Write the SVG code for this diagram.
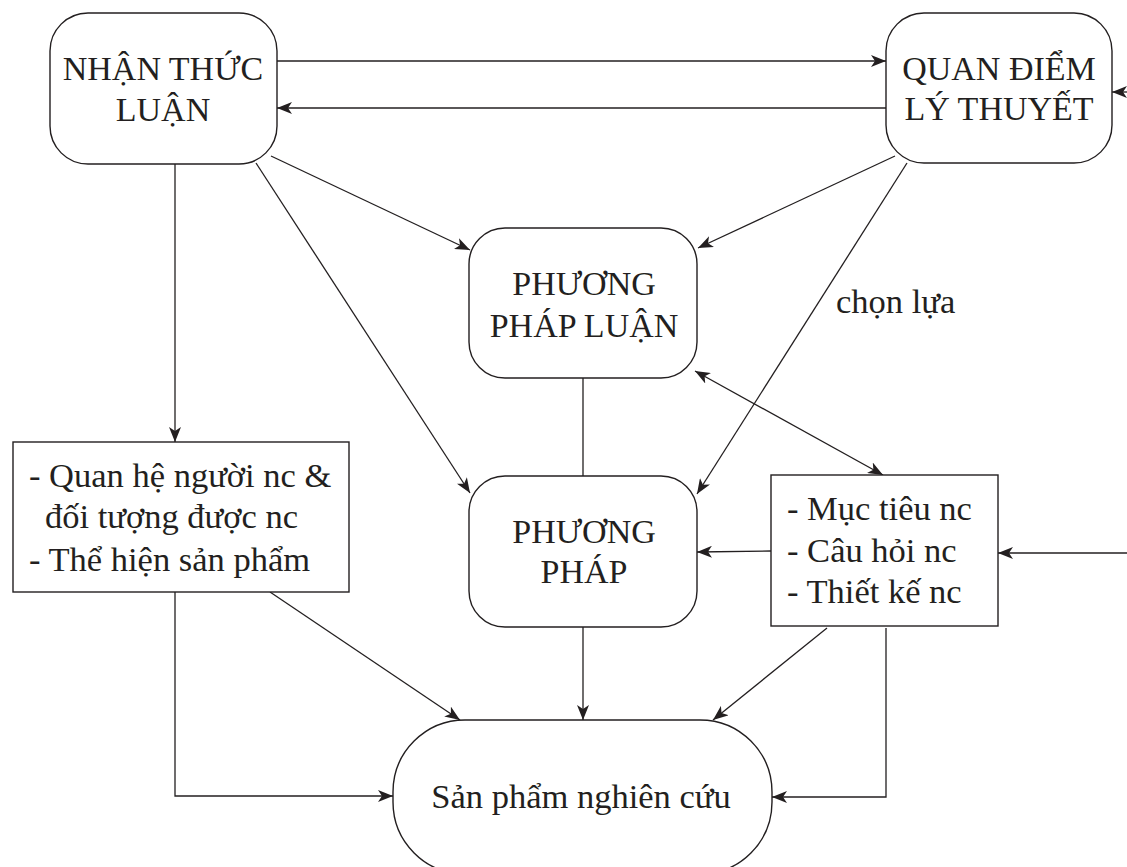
<svg xmlns="http://www.w3.org/2000/svg" width="1127" height="867" viewBox="0 0 1127 867">
<defs>
<marker id="ah" markerUnits="userSpaceOnUse" markerWidth="16" markerHeight="12" refX="15" refY="6" orient="auto-start-reverse">
<path d="M0,0 L15,6 L0,12 L4,6 Z" fill="#231f20"/>
</marker>
<style>
.box{fill:#fff;stroke:#231f20;stroke-width:1.4}
.c{fill:none;stroke:#231f20;stroke-width:1.3}
.a{marker-end:url(#ah)}
text{font-family:"Liberation Serif","Times New Roman",serif;font-size:34px;fill:#231f20}
.t{font-size:34.5px}
.m{text-anchor:middle}
</style>
</defs>
<rect width="1127" height="867" fill="#fff"/>
<g id="connectors">
<line class="c a" x1="277" y1="61" x2="886" y2="61"/>
<line class="c a" x1="886" y1="108" x2="277" y2="108"/>
<line class="c a" x1="1140" y1="92" x2="1112" y2="92"/>
<line class="c a" x1="271" y1="156" x2="470" y2="250"/>
<line class="c a" x1="256" y1="163" x2="470" y2="493"/>
<line class="c a" x1="895" y1="156" x2="698" y2="248"/>
<line class="c a" x1="907" y1="163" x2="697" y2="494"/>
<line class="c" x1="583" y1="378" x2="583" y2="476"/>
<path class="c a" d="M 695 371 L 883 475" style="marker-start:url(#ah)"/>
<line class="c a" x1="771" y1="551" x2="697" y2="552"/>
<line class="c a" x1="1140" y1="553" x2="998" y2="553"/>
<line class="c a" x1="175" y1="164" x2="175" y2="442"/>
<polyline class="c a" points="175,592 175,796 393,796"/>
<line class="c a" x1="270" y1="592" x2="460" y2="720"/>
<line class="c a" x1="583" y1="627" x2="583" y2="720"/>
<line class="c a" x1="827" y1="628" x2="713" y2="720"/>
<polyline class="c a" points="886,628 886,797 772,797"/>
<text class="t" x="836" y="313">chọn lựa</text>
</g>
<g id="nhan-thuc-luan">
<rect class="box" x="50" y="13" width="227" height="151" rx="38"/>
<text class="m" x="163" y="80">NHẬN THỨC</text>
<text class="m" x="163" y="121">LUẬN</text>
</g>
<g id="quan-diem-ly-thuyet">
<rect class="box" x="886" y="13" width="226" height="150" rx="38"/>
<text class="m" x="999" y="80">QUAN ĐIỂM</text>
<text class="m" x="999" y="120">LÝ THUYẾT</text>
</g>
<g id="phuong-phap-luan">
<rect class="box" x="469" y="228" width="228" height="150" rx="36"/>
<text class="m" x="584" y="295">PHƯƠNG</text>
<text class="m" x="584" y="337">PHÁP LUẬN</text>
</g>
<g id="phuong-phap">
<rect class="box" x="469" y="476" width="228" height="151" rx="36"/>
<text class="m" x="584" y="543">PHƯƠNG</text>
<text class="m" x="584" y="583">PHÁP</text>
</g>
<g id="quan-he">
<rect class="box" x="13" y="442" width="336" height="150"/>
<text class="t" x="29" y="487">- Quan hệ người nc &amp;</text>
<text class="t" x="45" y="528">đối tượng được nc</text>
<text class="t" x="29" y="571">- Thể hiện sản phẩm</text>
</g>
<g id="muc-tieu">
<rect class="box" x="771" y="475" width="227" height="151"/>
<text class="t" x="787" y="520">- Mục tiêu nc</text>
<text class="t" x="787" y="562">- Câu hỏi nc</text>
<text class="t" x="787" y="603">- Thiết kế nc</text>
</g>
<g id="san-pham">
<rect class="box" x="393" y="720" width="379" height="154" rx="72"/>
<text class="m t" x="581" y="808">Sản phẩm nghiên cứu</text>
</g>
</svg>
